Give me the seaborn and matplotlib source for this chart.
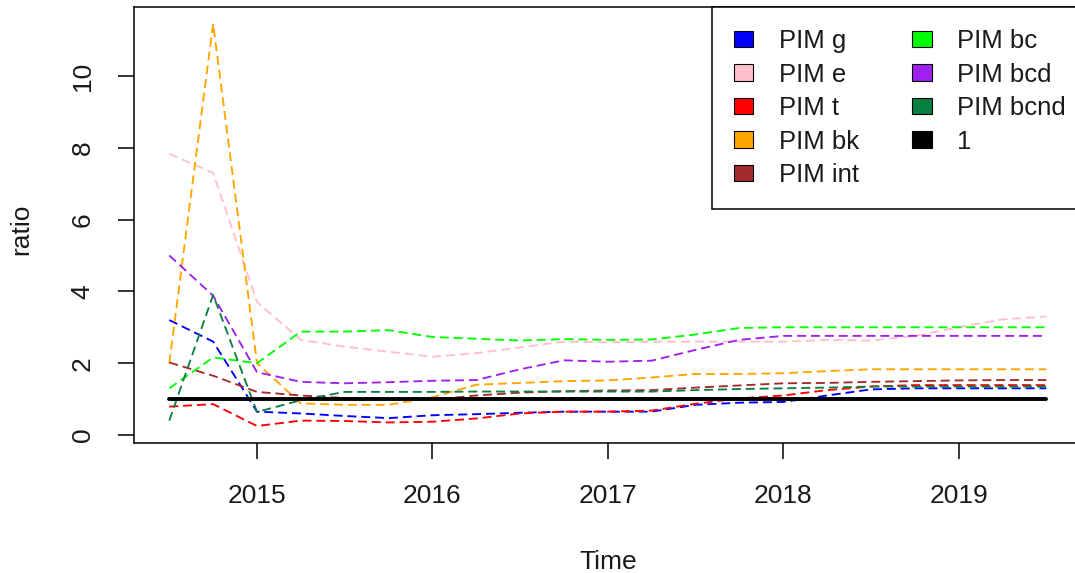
import matplotlib
matplotlib.use("Agg")
import matplotlib.pyplot as plt
import numpy as np
import pandas as pd
import seaborn as sns
from matplotlib.patches import Patch

# Quarterly observation times
quarters = [2014.50, 2014.75, 2015.00, 2015.25, 2015.50, 2015.75, 2016.00,
            2016.25, 2016.50, 2016.75, 2017.00, 2017.25, 2017.50, 2017.75,
            2018.00, 2018.25, 2018.50, 2018.75, 2019.00, 2019.25, 2019.50]

# Ratio series
pim_g = [3.20, 2.60, 0.65, 0.60, 0.53, 0.47, 0.55, 0.58, 0.62, 0.65, 0.65,
         0.65, 0.84, 0.90, 0.92, 1.10, 1.27, 1.30, 1.30, 1.30, 1.30]
pim_e = [7.83, 7.30, 3.70, 2.65, 2.46, 2.32, 2.18, 2.28, 2.44, 2.60, 2.58,
         2.60, 2.60, 2.60, 2.60, 2.65, 2.63, 2.76, 3.00, 3.22, 3.30]
pim_t = [0.79, 0.86, 0.25, 0.40, 0.39, 0.35, 0.37, 0.46, 0.60, 0.65, 0.65,
         0.68, 0.87, 1.02, 1.10, 1.25, 1.35, 1.39, 1.39, 1.39, 1.39]
pim_bk = [2.00, 11.45, 2.00, 0.88, 0.84, 0.84, 1.05, 1.40, 1.45, 1.50, 1.52,
          1.60, 1.70, 1.70, 1.72, 1.78, 1.83, 1.83, 1.83, 1.83, 1.83]
pim_int = [2.02, 1.65, 1.20, 1.10, 1.03, 1.00, 0.98, 1.10, 1.18, 1.22, 1.24,
           1.25, 1.32, 1.38, 1.44, 1.45, 1.48, 1.50, 1.52, 1.53, 1.53]
pim_bc = [1.30, 2.16, 2.00, 2.88, 2.88, 2.92, 2.73, 2.68, 2.63, 2.67, 2.65,
          2.66, 2.80, 2.98, 3.00, 3.00, 3.00, 3.00, 3.00, 3.00, 3.00]
pim_bcd = [5.00, 3.88, 1.75, 1.48, 1.44, 1.47, 1.51, 1.53, 1.83, 2.08, 2.04,
           2.07, 2.37, 2.65, 2.76, 2.76, 2.76, 2.76, 2.76, 2.76, 2.76]
pim_bcnd = [0.40, 3.90, 0.64, 0.97, 1.20, 1.20, 1.20, 1.21, 1.21, 1.21, 1.21,
            1.21, 1.25, 1.28, 1.30, 1.32, 1.35, 1.35, 1.35, 1.35, 1.35]
ref_one = [1.0, 1.0, 1.0, 1.0, 1.0, 1.0, 1.0, 1.0, 1.0, 1.0, 1.0,
           1.0, 1.0, 1.0, 1.0, 1.0, 1.0, 1.0, 1.0, 1.0, 1.0]

series_names = ["PIM g", "PIM e", "PIM t", "PIM bk", "PIM int",
                "PIM bc", "PIM bcd", "PIM bcnd"]
series_values = [pim_g, pim_e, pim_t, pim_bk, pim_int, pim_bc, pim_bcd, pim_bcnd]
series_colors = ["#0000FF", "#FFC0CB", "#FF0000", "#FFA500", "#A52A2A",
                 "#00FF00", "#A020F0", "#0A8040"]

x_ticks = [2015, 2016, 2017, 2018, 2019]
y_ticks = [0, 2, 4, 6, 8, 10]

long_df = pd.DataFrame({
    "Time": np.tile(quarters, len(series_names)),
    "ratio": np.concatenate(series_values),
    "series": np.repeat(series_names, len(quarters)),
})
one_df = pd.DataFrame({"Time": quarters, "ratio": ref_one})

sns.set_style("ticks")
plt.rcParams["font.family"] = ["Liberation Sans", "DejaVu Sans"]

fig = plt.figure(figsize=(10.75, 5.73), dpi=100)
ax = fig.add_axes([134.2 / 1075, 1 - 443.3 / 573,
                   (1081.4 - 134.2) / 1075, (443.3 - 7.3) / 573])

palette = dict(zip(series_names, series_colors))
dash_map = {name: (4.8, 2.6) for name in series_names}
sns.lineplot(data=long_df, x="Time", y="ratio", hue="series", style="series",
             hue_order=series_names, style_order=series_names,
             palette=palette, dashes=dash_map, linewidth=1.35,
             legend=False, ax=ax, sort=False)
sns.lineplot(data=one_df, x="Time", y="ratio", color="black",
             linewidth=2.8, legend=False, ax=ax)

ax.set_xlim(2014.3, 2019.7)
ax.set_ylim(-0.231, 11.91)
ax.set_xticks(x_ticks)
ax.set_xticklabels([str(v) for v in x_ticks])
ax.set_yticks(y_ticks)
ax.set_yticklabels([str(v) for v in y_ticks])

for side in ["left", "right", "top", "bottom"]:
    ax.spines[side].set_visible(True)
    ax.spines[side].set_color("black")
    ax.spines[side].set_linewidth(1.1)

ax.tick_params(axis="both", direction="out", length=11.5, width=1.1,
               colors="black", labelsize=19, labelcolor="#1a1a1a")
ax.tick_params(axis="x", pad=18)
ax.tick_params(axis="y", pad=17)
for lbl in ax.get_yticklabels():
    lbl.set_rotation(90)
    lbl.set_va("center")

ax.set_xlabel("Time", fontsize=19, color="#1a1a1a")
ax.set_ylabel("ratio", fontsize=19, color="#1a1a1a")
ax.xaxis.set_label_coords(0.5, -0.2448)
ax.yaxis.set_label_coords(-0.1066, 0.49)

legend_labels = series_names + ["1"]
legend_colors = series_colors + ["#000000"]
handles = [Patch(facecolor=c, edgecolor="black", linewidth=0.8)
           for c in legend_colors]
leg = ax.legend(handles, legend_labels, ncol=2, loc="upper right",
                bbox_to_anchor=(1.007, 1.0), borderaxespad=0.0, frameon=True,
                fancybox=False, framealpha=1.0, edgecolor="black",
                fontsize=18.5, handlelength=0.75, handleheight=0.6,
                handletextpad=1.0, columnspacing=2.07, labelspacing=0.37,
                borderpad=0.85)
leg.get_frame().set_linewidth(1.1)
for txt in leg.get_texts():
    txt.set_color("#1a1a1a")

fig.savefig("out.png", dpi=100)
